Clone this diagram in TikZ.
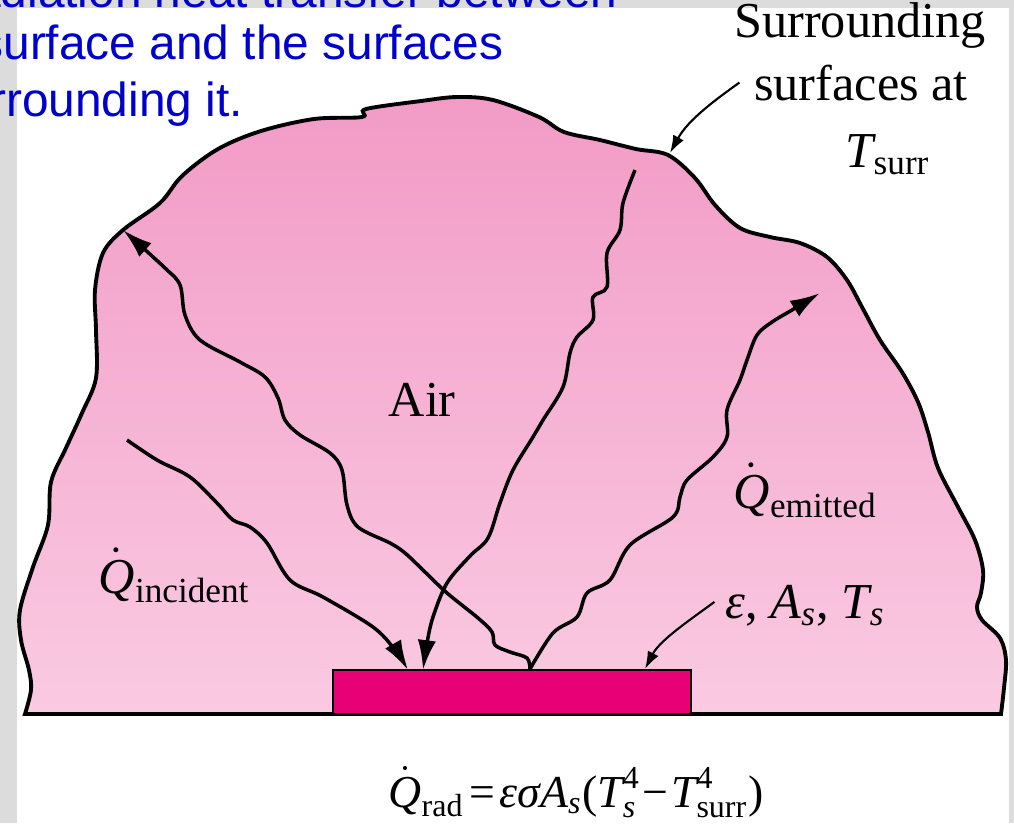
\documentclass[tikz,border=0pt]{standalone}
\usepackage{amsmath}
\usepackage{fontspec}
\setmainfont{Liberation Serif}
\newfontfamily\slidefont{Liberation Sans}
\usetikzlibrary{arrows.meta}

\definecolor{slideblue}{RGB}{0,0,204}
\definecolor{slidegrey}{RGB}{220,220,220}
\definecolor{blobtop}{RGB}{242,155,198}
\definecolor{blobbottom}{RGB}{250,202,226}
\definecolor{platepink}{RGB}{232,0,118}

\newcommand{\tim}[1]{\text{\itshape #1}}
\newcommand{\qdot}{\dot{\tim{Q}}}

\begin{document}
\begin{tikzpicture}[x=0.01cm, y=-0.01cm,
    ray/.style={line width=1pt, -{Latex[length=8.5pt,width=5.2pt]}},
    leader/.style={line width=0.6pt, -{Latex[length=5pt,width=3.4pt]}},
    lbl/.style={font=\fontsize{14.3}{17}\selectfont, inner sep=0pt},
    slide/.style={font=\slidefont\fontsize{13.6}{16}\selectfont, text=slideblue, inner sep=0pt, anchor=base west}]
    \useasboundingbox (0,0) rectangle (1014,823);
    \clip (0,0) rectangle (1014,823);

    % slide background and grey frame
    \fill[white] (0,0) rectangle (1014,823);
    \fill[slidegrey] (0,0) rectangle (17,823);
    \fill[slidegrey] (0,0) rectangle (1014,8);
    \fill[slidegrey] (1009,0) rectangle (1014,823);

    % air region bounded by the surrounding surfaces
    \path[draw=black, line width=1.1pt, top color=blobtop, bottom color=blobbottom]
        plot[smooth, tension=0.55] coordinates {
            (25,714) (31,690) (29,670) (21,640) (20,610) (33,567) (48,525)
            (51,482) (66,448) (82,413) (96,378) (96,330) (95,290) (103,253)
            (123,230) (160,203) (182,176) (218,149) (261,131) (314,119)
            (362,117) (366,109) (421,101) (457,97) (493,100) (539,117)
            (564,132) (600,140) (636,149) (668,155) (695,178) (715,205)
            (740,228) (770,237) (800,243) (827,257) (847,280) (862,307)
            (880,340) (902,372) (918,402) (928,432) (938,468) (958,507)
            (975,540) (983,570) (981,593) (977,607) (982,620) (1000,638)
            (1006,660) (1004,688) (1001,714)} -- cycle;

    % the radiating surface
    \draw[fill=platepink, line width=0.7pt] (333,670) rectangle (691,714);

    \coordinate (v) at (530,669);
    \coordinate (topleft) at (123,230);
    \coordinate (incstart) at (127,440);
    \coordinate (inctip) at (408,670);
    \coordinate (downstart) at (635,170);
    \coordinate (downtip) at (423,670);
    \coordinate (emittip) at (820,293);
    \coordinate (surrtip) at (670,153);
    \coordinate (platetip) at (645,669);

    % wavy rays
    \draw[ray] plot[smooth, tension=0.55] coordinates {
        (v) (527,658) (510,652) (495,645) (492,632) (478,618) (447,593)
        (425,572) (405,553) (390,543) (358,527) (347,505) (342,470)
        (330,453) (300,435) (285,420) (278,398) (265,377) (240,362)
        (200,340) (185,315) (180,285) (165,268) (topleft)};
    \draw[ray] plot[smooth, tension=0.55] coordinates {
        (incstart) (157,460) (190,477) (217,503) (233,520) (250,527)
        (267,543) (290,580) (323,597) (373,627) (395,650) (inctip)};
    \draw[ray] plot[smooth, tension=0.55] coordinates {
        (downstart) (623,203) (620,230) (607,253) (607,287) (593,297)
        (593,320) (577,337) (570,353) (563,387) (543,420) (533,437)
        (513,470) (500,503) (488,538) (470,556) (447,583) (433,617)
        (427,643) (downtip)};
    \draw[ray] plot[smooth, tension=0.55] coordinates {
        (v) (553,633) (577,617) (587,593) (610,580) (630,545) (673,517)
        (680,497) (687,480) (713,457) (727,437) (727,410) (740,380)
        (747,360) (757,335) (772,322) (792,310) (emittip)};

    % labels
    \node[slide] (blue1) at (-61,7) {Radiation heat transfer between};
    \node[slide] (blue2) at (-61,59) {a surface and the surfaces};
    \node[slide] (blue3) at (-61,116) {surrounding it.};

    \node[lbl, anchor=base] (surr1) at (860,37) {Surrounding};
    \node[lbl, anchor=base] (surr2) at (861,100) {surfaces at};
    \node[lbl, anchor=base] (surr3) at (888,167) {$\tim{T}_{\text{surr}}$};
    \node[lbl, anchor=base west] (air) at (388,416) {Air};
    \node[lbl, anchor=base west] (qinc) at (98,593) {$\qdot_{\text{incident}}$};
    \node[lbl, anchor=base west] (qemit) at (733,508) {$\qdot_{\text{emitted}}$};
    \node[lbl, anchor=base west] (props) at (725,618)
        {$\tim{ε}\text{, }\tim{A}_{\tim{s}}\text{, }\tim{T}_{\tim{s}}$};
    \node[lbl, font=\fontsize{13}{16}\selectfont, anchor=base] (formula) at (576,807)
        {\thickmuskip=2mu \medmuskip=1mu
         $\qdot_{\text{rad}} \mathrel{\text{=}} \tim{εσA}_{\tim{s}}\text{(}\tim{T}_{\tim{s}}^{\text{4}} \mathbin{\text{−}} \tim{T}_{\text{surr}}^{\text{4}}\text{)}$};

    % leader arrows
    \draw[leader] ([xshift=-4pt]surr2.west) .. controls (715,100) and (688,120) .. (surrtip);
    \draw[leader] ([xshift=-3pt,yshift=1pt]props.west) .. controls (690,620) and (660,640) .. (platetip);
\end{tikzpicture}
\end{document}
